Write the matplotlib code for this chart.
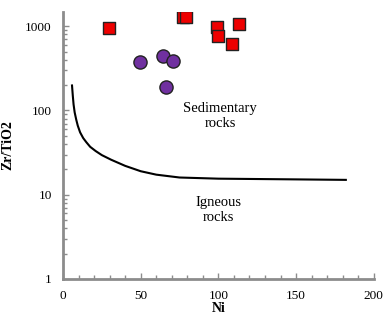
import numpy as np
import matplotlib
matplotlib.use('Agg')
from matplotlib import pyplot as plt
from matplotlib.ticker import LogLocator, MultipleLocator

# red squares
sq_ni = [29.7, 77.5, 79, 99.4, 100, 113, 109]
sq_zr = [946, 1270, 1290, 973, 760, 1057, 611]

# purple circles
ci_ni = [49.7, 64.5, 71, 66.5]
ci_zr = [373, 439, 383, 188]

# boundary line
line_ni = [5.8, 6.3, 6.8, 7.5, 8.5, 9.5, 11, 13, 15, 17.5, 21, 25, 31, 40, 50, 60, 75, 100, 150, 182]
line_zr = [198, 150, 118, 95, 78, 66, 55, 47, 42, 37, 33, 29.5, 26, 22, 19, 17.3, 16, 15.5, 15.2, 15]

plt.rcParams['font.family'] = ['Liberation Serif', 'DejaVu Serif']

fig = plt.figure(figsize=(3.83, 3.21), dpi=100)
ax = fig.add_axes([0.1645, 0.131, 0.8115, 0.832])

ax.plot(line_ni, line_zr, color='black', lw=1.5, zorder=2)
ax.scatter(sq_ni, sq_zr, marker='s', s=70, color='#ee0000', edgecolor='#222222', lw=1.0, zorder=3)
ax.scatter(ci_ni, ci_zr, marker='o', s=90, color='#7030a0', edgecolor='#222222', lw=1.0, zorder=3)

ax.set_yscale('log')
ax.set_xlim(0, 200)
ax.set_ylim(1, 1480)
ax.set_yticks([1, 10, 100, 1000])
ax.set_yticklabels(['1', '10', '100', '1000'])
ax.yaxis.set_minor_locator(LogLocator(base=10, subs=np.arange(2, 10)))
ax.yaxis.set_minor_formatter(plt.NullFormatter())
ax.xaxis.set_major_locator(MultipleLocator(50))
ax.xaxis.set_minor_locator(MultipleLocator(10))

for s in ['top', 'right']:
    ax.spines[s].set_visible(False)
for s in ['left', 'bottom']:
    ax.spines[s].set_color('#8c8c8c')
    ax.spines[s].set_linewidth(2)

ax.tick_params(which='both', direction='in', color='#8c8c8c', width=1, labelsize=9.5)
ax.tick_params(which='major', length=4, pad=8)
ax.tick_params(which='minor', length=3)

ax.text(101, 85, 'Sedimentary\nrocks', ha='center', va='center', fontsize=10.5)
ax.text(100, 6.6, 'Igneous\nrocks', ha='center', va='center', fontsize=10.5)

ax.set_xlabel('Ni', fontsize=10, fontweight='bold', labelpad=0)
ax.set_ylabel('Zr/TiO2', fontsize=10, fontweight='bold', labelpad=8)

fig.savefig('out.png', dpi=100)
